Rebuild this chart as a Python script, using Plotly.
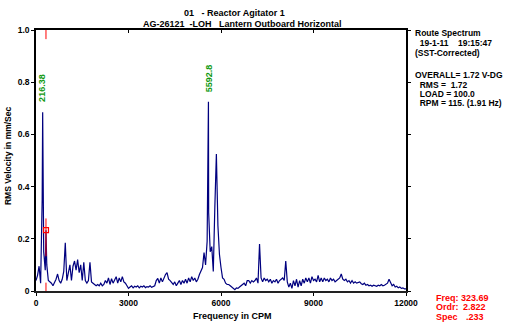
import numpy as np
import plotly.graph_objects as go

# Velocity spectrum, 50 CPM bins from 0 to 12000 CPM (mm/s RMS)
bin_step_cpm = 50
vel = [
    0.04, 0.06, 0.095, 0.03, 0.35, 0.15, 0.08, 0.10, 0.04, 0.035,
    0.03, 0.02, 0.03, 0.045, 0.065, 0.04, 0.03, 0.045, 0.075, 0.185,
    0.04, 0.075, 0.10, 0.04, 0.095, 0.115, 0.08, 0.12, 0.07, 0.10,
    0.04, 0.11, 0.04, 0.03, 0.04, 0.11, 0.035, 0.03, 0.025, 0.02,
    0.025, 0.02, 0.03, 0.02, 0.025, 0.04, 0.03, 0.05, 0.025, 0.047,
    0.03, 0.04, 0.055, 0.03, 0.05, 0.035, 0.055, 0.035, 0.03, 0.02,
    0.01, 0.015, 0.02, 0.012, 0.018, 0.015, 0.02, 0.012, 0.018, 0.015,
    0.02, 0.013, 0.017, 0.015, 0.02, 0.014, 0.018, 0.02, 0.04, 0.048,
    0.03, 0.05, 0.035, 0.05, 0.063, 0.07, 0.045, 0.04, 0.032, 0.025,
    0.035, 0.02, 0.03, 0.04, 0.025, 0.04, 0.03, 0.045, 0.03, 0.05,
    0.035, 0.055, 0.04, 0.05, 0.035, 0.045, 0.063, 0.08, 0.09, 0.147,
    0.10, 0.19, 0.30, 0.15, 0.17, 0.075, 0.32, 0.525, 0.25, 0.14,
    0.09, 0.05, 0.045, 0.03, 0.025, 0.025, 0.02, 0.015, 0.013, 0.005,
    0.012, 0.01, 0.015, 0.02, 0.025, 0.03, 0.02, 0.04, 0.04, 0.03,
    0.04, 0.035, 0.04, 0.05, 0.03, 0.18, 0.05, 0.035, 0.05, 0.04,
    0.045, 0.035, 0.045, 0.03, 0.04, 0.035, 0.045, 0.03, 0.04, 0.045,
    0.05, 0.04, 0.115, 0.035, 0.015, 0.03, 0.01, 0.04, 0.02, 0.045,
    0.015, 0.04, 0.02, 0.045, 0.03, 0.05, 0.035, 0.05, 0.03, 0.055,
    0.04, 0.045, 0.035, 0.06, 0.035, 0.05, 0.035, 0.05, 0.04, 0.045,
    0.035, 0.05, 0.04, 0.045, 0.035, 0.04, 0.045, 0.05, 0.065, 0.045,
    0.04, 0.045, 0.035, 0.04, 0.03, 0.04, 0.03, 0.035, 0.03, 0.032,
    0.035, 0.028, 0.025, 0.03, 0.022, 0.025, 0.02, 0.022, 0.018, 0.022,
    0.02, 0.018, 0.022, 0.02, 0.025, 0.02, 0.022, 0.025, 0.03, 0.045,
    0.035, 0.02, 0.025, 0.015, 0.018, 0.012, 0.015, 0.01, 0.012, 0.008,
    0.008,
]

# Labelled peaks
peak_freq = [216.38, 5592.8]
peak_amp = [0.685, 0.725]
peak_labels = ["216.38", "5592.8"]

# Cursor readout
cursor_freq = 323.69
cursor_order = 2.822
cursor_spec = 0.233

title_lines = ["01\u00a0\u00a0\u00a0- Reactor Agitator 1",
               "AG-26121\u00a0\u00a0-LOH\u00a0\u00a0\u00a0Lantern Outboard Horizontal"]
info_lines = ["Route Spectrum",
              "\u00a0\u00a019-1-11\u00a0\u00a0\u00a0\u00a019:15:47",
              "(SST-Corrected)",
              "",
              "OVERALL= 1.72 V-DG",
              "\u00a0\u00a0RMS =\u00a0 1.72",
              "\u00a0\u00a0LOAD = 100.0",
              "\u00a0\u00a0RPM = 115. (1.91 Hz)"]

x_ticks = [0, 3000, 6000, 9000, 12000]
y_ticks = [0, 0.2, 0.4, 0.6, 0.8, 1.0]
y_ticktext = ["0", "0.2", "0.4", "0.6", "0.8", "1.0"]

# Merge bins with the peak and cursor points, sorted by frequency
freq = list(np.arange(len(vel)) * bin_step_cpm)
pts = list(zip(freq, vel)) + list(zip(peak_freq, peak_amp)) + [(cursor_freq, cursor_spec)]
pts.sort(key=lambda p: p[0])
fx = [p[0] for p in pts]
fy = [p[1] for p in pts]

FONT = "Liberation Sans, Arial, sans-serif"
NAVY = "#00007f"
RED = "#ff0000"
GREEN = "#119911"

W, H = 508, 326
ML, MR, MT, MB = 36, 102, 29.5, 34.5
PW = W - ML - MR
PH = H - MT - MB


def px_x(px):
    return (px - ML) / PW


def px_y(py):
    return (H - MB - py) / PH


fig = go.Figure()
fig.add_trace(go.Scatter(x=fx, y=fy, mode="lines",
                         line=dict(color=NAVY, width=1.2),
                         hoverinfo="skip", showlegend=False))

# cursor box
fig.add_trace(go.Scatter(x=[cursor_freq], y=[cursor_spec], mode="markers",
                         marker=dict(symbol="square-open", size=5,
                                     color=RED, line=dict(width=1.2, color=RED)),
                         cliponaxis=False, showlegend=False, hoverinfo="skip"))

# cursor line segments
for y0, y1 in [(1.0, 0.965), (cursor_spec + 0.045, cursor_spec - 0.1), (0.032, -0.043)]:
    fig.add_shape(type="line", xref="x", yref="y", x0=cursor_freq, x1=cursor_freq,
                  y0=y0, y1=y1, line=dict(color=RED, width=1))

# peak labels
for f, a, t in zip(peak_freq, peak_amp, peak_labels):
    fig.add_annotation(x=f, y=a, text=t, textangle=-90, showarrow=False,
                       xanchor="center", yanchor="bottom", yshift=8,
                       font=dict(family=FONT, size=9, color=GREEN, weight="bold"))

# titles
fig.add_annotation(x=px_x(234), y=px_y(12), xref="paper", yref="paper",
                   text=title_lines[0], showarrow=False, xanchor="center", yanchor="middle",
                   font=dict(family=FONT, size=9, color="black", weight="bold"))
fig.add_annotation(x=px_x(242), y=px_y(23), xref="paper", yref="paper",
                   text=title_lines[1], showarrow=False, xanchor="center", yanchor="middle",
                   font=dict(family=FONT, size=9, color="black", weight="bold"))

# info block on the right
for i, line in enumerate(info_lines):
    if not line:
        continue
    yy = 33 + i * 10 if i < 3 else 75 + (i - 4) * 9.4
    fig.add_annotation(x=px_x(412.5), y=px_y(yy), xref="paper", yref="paper",
                       text=line, showarrow=False, xanchor="left", yanchor="middle",
                       font=dict(family=FONT, size=8.5, color="black", weight="bold"))

# cursor readout
readout = [("Freq:", f"{cursor_freq:.2f}", 299, 459),
           ("Ordr:", f"{cursor_order:.3f}", 308, 461.5),
           ("Spec", f"{cursor_spec:.3f}".lstrip("0"), 318, 464)]
for lab, val, yy, vx in readout:
    fig.add_annotation(x=px_x(434), y=px_y(yy), xref="paper", yref="paper",
                       text=lab, showarrow=False, xanchor="left", yanchor="middle",
                       font=dict(family=FONT, size=9, color=RED, weight="bold"))
    fig.add_annotation(x=px_x(vx), y=px_y(yy), xref="paper", yref="paper",
                       text=val, showarrow=False, xanchor="left", yanchor="middle",
                       font=dict(family=FONT, size=9, color=RED, weight="bold"))

# axis titles
fig.add_annotation(x=px_x(232), y=px_y(316.5), xref="paper", yref="paper",
                   text="Frequency in CPM", showarrow=False,
                   xanchor="center", yanchor="middle",
                   font=dict(family=FONT, size=9, color="black", weight="bold"))
fig.add_annotation(x=px_x(7.5), y=px_y(155.5), xref="paper", yref="paper",
                   text="RMS Velocity in mm/Sec", showarrow=False, textangle=-90,
                   xanchor="center", yanchor="middle",
                   font=dict(family=FONT, size=8.5, color="black", weight="bold"))

tickfont = dict(family=FONT, size=8.5, color="black", weight="bold")
fig.update_layout(
    width=W, height=H,
    margin=dict(l=ML, r=MR, t=MT, b=MB, pad=0),
    paper_bgcolor="white", plot_bgcolor="white",
    xaxis=dict(range=[0, 12000], tickvals=x_ticks, ticktext=[str(v) for v in x_ticks],
               ticks="outside", ticklen=3, tickwidth=1, tickcolor="black",
               showline=True, linecolor="#222222", linewidth=2, showgrid=False,
               zeroline=False, tickfont=tickfont, mirror=False),
    xaxis2=dict(range=[0, 12000], overlaying="x", side="top", tickvals=x_ticks,
                showticklabels=False, ticks="inside", ticklen=3, tickcolor="black",
                showline=True, linecolor="black", linewidth=1.5, showgrid=False,
                zeroline=False),
    yaxis=dict(range=[0, 1], tickvals=y_ticks, ticktext=y_ticktext,
               ticks="outside", ticklen=3, tickwidth=1, tickcolor="black",
               showline=True, linecolor="black", linewidth=1.5, mirror="ticks",
               showgrid=False, zeroline=False, tickfont=tickfont),
)
fig.add_trace(go.Scatter(x=[None], y=[None], xaxis="x2", showlegend=False,
                         hoverinfo="skip"))

fig.write_html("out.html")
